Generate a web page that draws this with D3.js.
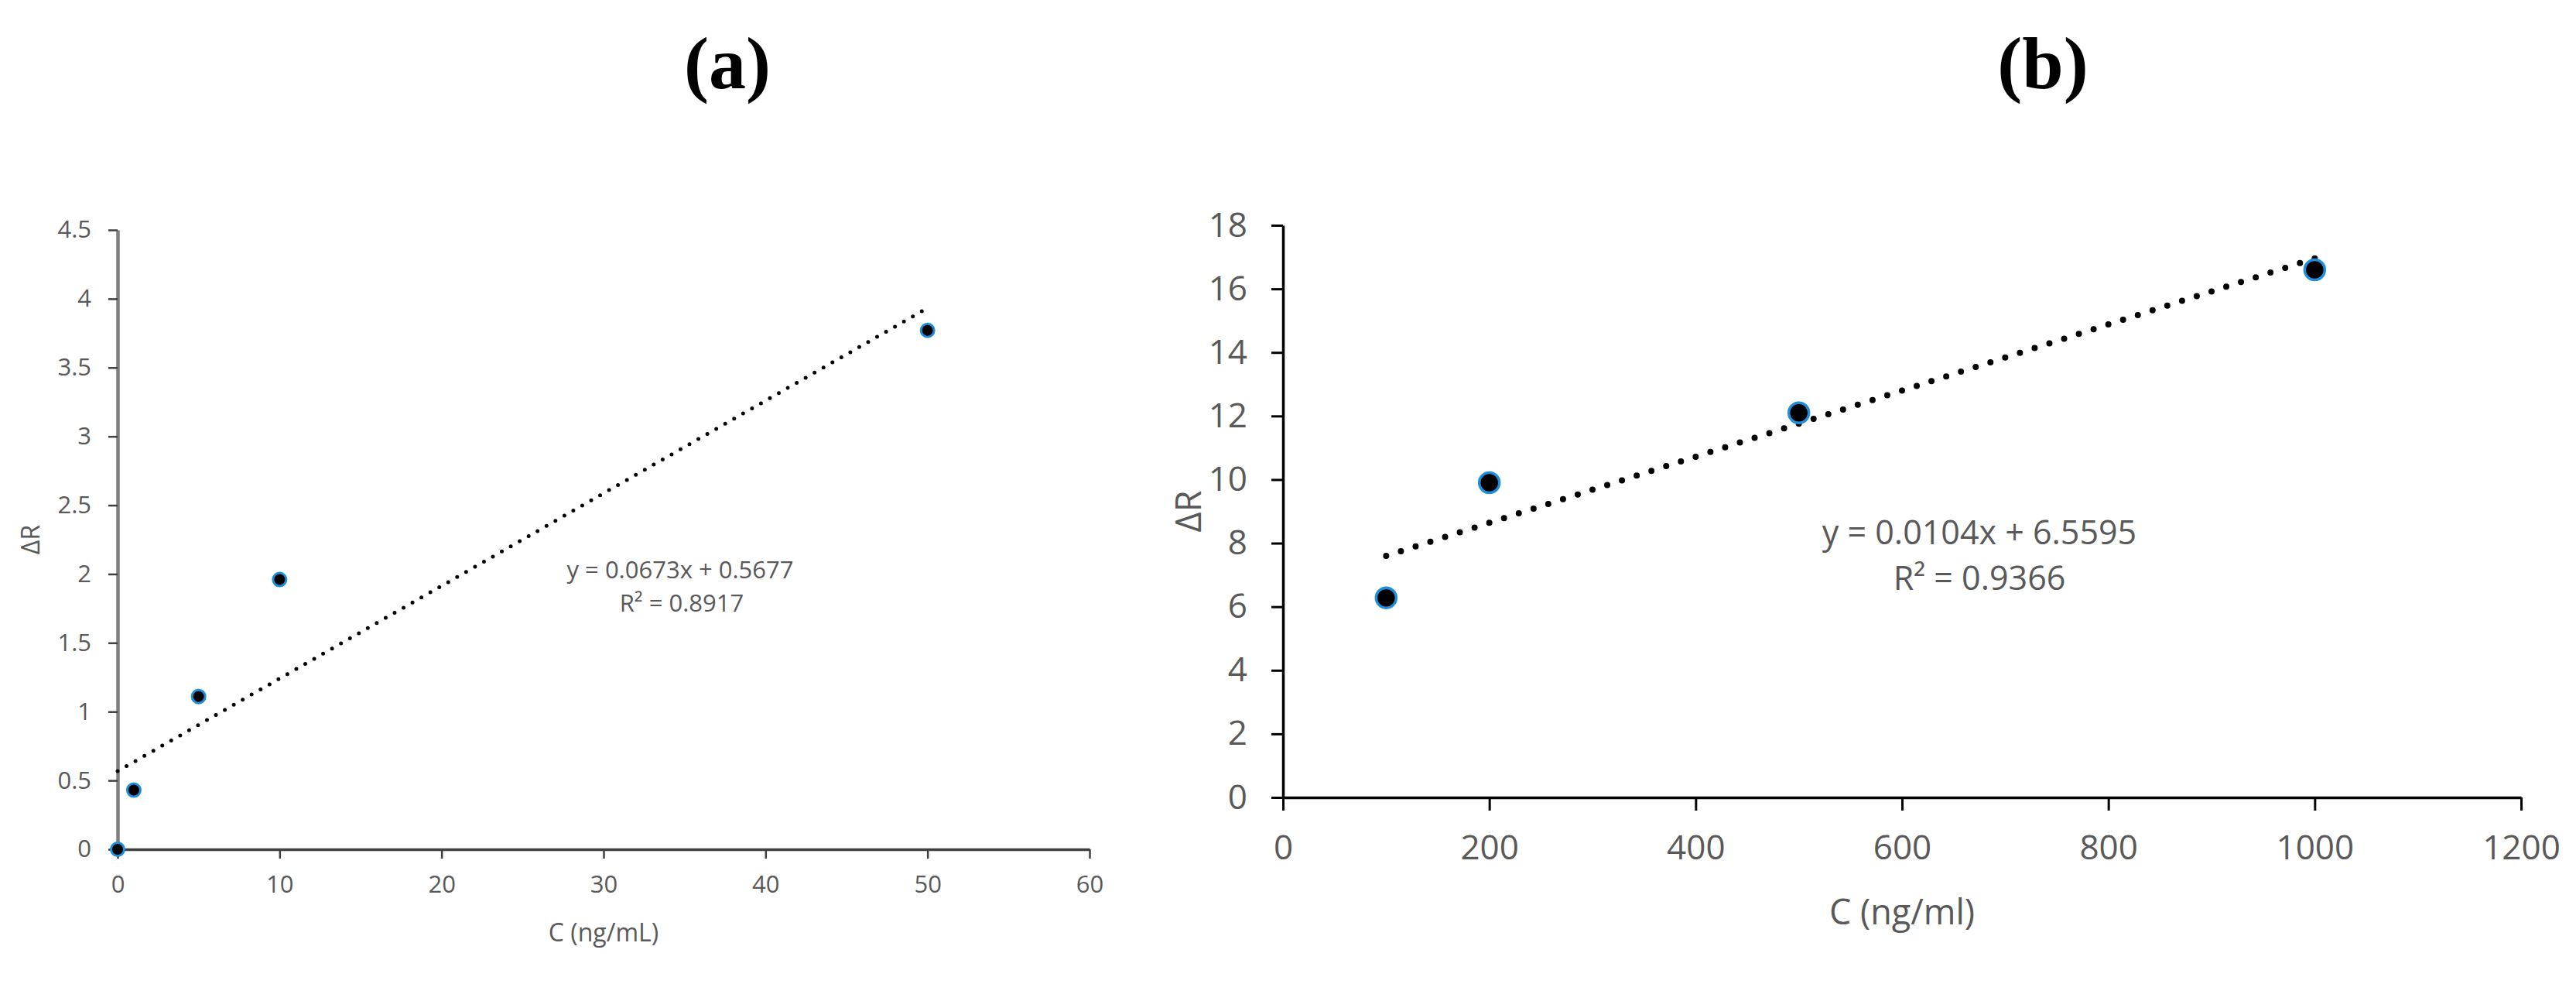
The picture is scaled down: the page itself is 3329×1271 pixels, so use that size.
<!DOCTYPE html>
<html>
<head>
<meta charset="utf-8">
<script src="https://cdn.jsdelivr.net/npm/d3@7"></script>
<style>
  html, body { margin: 0; padding: 0; background: #fff; }
  svg { display: block; }
  text { font-family: "Open Sans", "Liberation Sans", sans-serif; }
</style>
</head>
<body>
<svg id="chart" width="3329" height="1271"></svg>
<script>
// ---------- DATA ----------
const panelTitles = ["(a)", "(b)"];

// Panel (a)
const concA = [0, 1, 5, 10, 50];
const deltaRA = [0, 0.43, 1.11, 1.96, 3.77];
const xTicksA = [0, 10, 20, 30, 40, 50, 60];
const yTicksA = [0, 0.5, 1, 1.5, 2, 2.5, 3, 3.5, 4, 4.5];
const trendA = { slope: 0.0673, intercept: 0.5677, from: 0, to: 50 };
const eqA = ["y = 0.0673x + 0.5677", "R² = 0.8917"];
const xLabelA = "C (ng/mL)";
const yLabelA = "ΔR";

// Panel (b)
const concB = [100, 200, 500, 1000];
const deltaRB = [6.28, 9.9, 12.1, 16.6];
const xTicksB = [0, 200, 400, 600, 800, 1000, 1200];
const yTicksB = [0, 2, 4, 6, 8, 10, 12, 14, 16, 18];
const trendB = { slope: 0.0104, intercept: 6.5595, from: 100, to: 1000 };
const eqB = ["y = 0.0104x + 6.5595", "R² = 0.9366"];
const xLabelB = "C (ng/ml)";
const yLabelB = "ΔR";

// ---------- DRAW ----------
const svg = d3.select("#chart");
svg.append("rect").attr("width", 3329).attr("height", 1271).attr("fill", "#fff");

const textGray = "#595959";
const blue = "#1f8fdc";

function styleAxis(g, opts) {
  g.select(".domain").attr("stroke", opts.domainColor).attr("stroke-width", opts.domainWidth);
  g.selectAll(".tick line").attr("stroke", opts.tickColor).attr("stroke-width", opts.tickWidth);
  g.selectAll(".tick text").attr("fill", textGray).attr("font-size", opts.fontSize)
    .style("font-family", '"Open Sans", "Liberation Sans", sans-serif');
}

// ===== Panel (a) =====
const xA = d3.scaleLinear().domain([0, 60]).range([152, 1408]);
const yA = d3.scaleLinear().domain([0, 4.5]).range([1097, 297]);

const gyA = svg.append("g").attr("transform", `translate(${xA(0)},0)`)
  .call(d3.axisLeft(yA).tickValues(yTicksA).tickSize(12).tickSizeOuter(0).tickPadding(22).tickFormat(d => String(d)));
styleAxis(gyA, { domainColor: "#7f7f7f", domainWidth: 4.5, tickColor: "#404040", tickWidth: 2.5, fontSize: 31 });

const gxA = svg.append("g").attr("transform", `translate(0,${yA(0)})`)
  .call(d3.axisBottom(xA).tickValues(xTicksA).tickSize(12).tickSizeOuter(0).tickPadding(22).tickFormat(d => String(d)));
styleAxis(gxA, { domainColor: "#404040", domainWidth: 3.5, tickColor: "#404040", tickWidth: 2.5, fontSize: 31 });

// trend line (a)
svg.append("line")
  .attr("x1", xA(trendA.from)).attr("y1", yA(trendA.slope * trendA.from + trendA.intercept))
  .attr("x2", xA(trendA.to)).attr("y2", yA(trendA.slope * trendA.to + trendA.intercept))
  .attr("stroke", "#000").attr("stroke-width", 5).attr("stroke-linecap", "round")
  .attr("stroke-dasharray", "0 13.3");

// points (a)
svg.append("g").selectAll("circle").data(concA.map((c, i) => [c, deltaRA[i]])).join("circle")
  .attr("cx", d => xA(d[0])).attr("cy", d => yA(d[1])).attr("r", 8.5)
  .attr("fill", "#000").attr("stroke", blue).attr("stroke-width", 3);

// equation (a)
svg.append("text").attr("x", 879).attr("y", 747).attr("text-anchor", "middle")
  .attr("font-size", 31).attr("fill", textGray).text(eqA[0]);
svg.append("text").attr("x", 881).attr("y", 790).attr("text-anchor", "middle")
  .attr("font-size", 31).attr("fill", textGray).text(eqA[1]);

// axis labels (a)
svg.append("text").attr("x", (xA(0) + xA(60)) / 2).attr("y", 1216).attr("text-anchor", "middle")
  .attr("font-size", 32).attr("fill", textGray).text(xLabelA);
svg.append("text").attr("transform", `translate(51,${(yA(0) + yA(4.5)) / 2}) rotate(-90)`)
  .attr("text-anchor", "middle").attr("font-size", 32).attr("fill", textGray).text(yLabelA);

// ===== Panel (b) =====
const xB = d3.scaleLinear().domain([0, 1200]).range([1658, 3258]);
const yB = d3.scaleLinear().domain([0, 18]).range([1030, 291]);

const gyB = svg.append("g").attr("transform", `translate(${xB(0)},0)`)
  .call(d3.axisLeft(yB).tickValues(yTicksB).tickSize(15).tickSizeOuter(0).tickPadding(31).tickFormat(d => String(d)));
styleAxis(gyB, { domainColor: "#000", domainWidth: 3.5, tickColor: "#000", tickWidth: 3, fontSize: 44 });

const gxB = svg.append("g").attr("transform", `translate(0,${yB(0)})`)
  .call(d3.axisBottom(xB).tickValues(xTicksB).tickSize(17).tickSizeOuter(0).tickPadding(32).tickFormat(d => String(d)));
styleAxis(gxB, { domainColor: "#000", domainWidth: 3.5, tickColor: "#000", tickWidth: 3, fontSize: 44 });

// trend line (b)
svg.append("line")
  .attr("x1", xB(trendB.from)).attr("y1", yB(trendB.slope * trendB.from + trendB.intercept))
  .attr("x2", xB(trendB.to)).attr("y2", yB(trendB.slope * trendB.to + trendB.intercept))
  .attr("stroke", "#000").attr("stroke-width", 8).attr("stroke-linecap", "round")
  .attr("stroke-dasharray", "0 20");

// points (b)
svg.append("g").selectAll("circle").data(concB.map((c, i) => [c, deltaRB[i]])).join("circle")
  .attr("cx", d => xB(d[0])).attr("cy", d => yB(d[1])).attr("r", 13)
  .attr("fill", "#000").attr("stroke", blue).attr("stroke-width", 3.5);

// equation (b)
svg.append("text").attr("x", 2558).attr("y", 703).attr("text-anchor", "middle")
  .attr("font-size", 43).attr("fill", textGray).text(eqB[0]);
svg.append("text").attr("x", 2558).attr("y", 762).attr("text-anchor", "middle")
  .attr("font-size", 43).attr("fill", textGray).text(eqB[1]);

// axis labels (b)
svg.append("text").attr("x", (xB(0) + xB(1200)) / 2).attr("y", 1194).attr("text-anchor", "middle")
  .attr("font-size", 45).attr("fill", textGray).text(xLabelB);
svg.append("text").attr("transform", `translate(1552,${(yB(0) + yB(18)) / 2}) rotate(-90)`)
  .attr("text-anchor", "middle").attr("font-size", 45).attr("fill", textGray).text(yLabelB);

// ===== Titles =====
const titleX = [940, 2640];
svg.selectAll("text.title").data(panelTitles).join("text").attr("class", "title")
  .attr("x", (d, i) => titleX[i]).attr("y", 114).attr("text-anchor", "middle")
  .attr("font-size", 96).attr("font-weight", "bold").attr("fill", "#000")
  .style("font-family", '"Liberation Serif", "DejaVu Serif", serif')
  .text(d => d);
</script>
</body>
</html>
